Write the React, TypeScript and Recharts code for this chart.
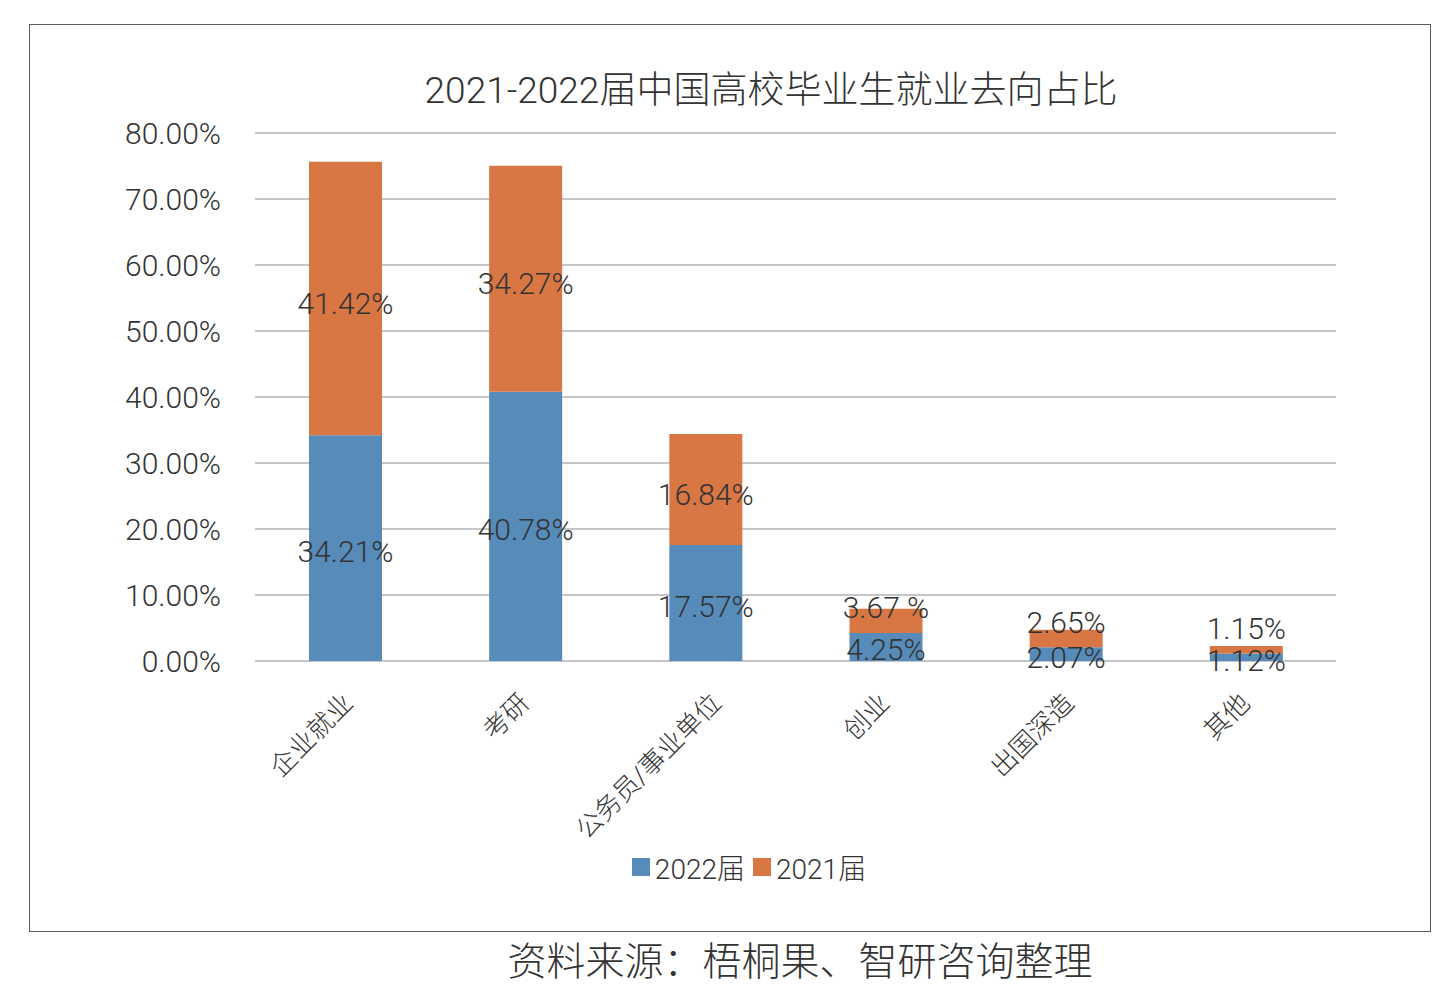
import React from 'react';
import { BarChart, Bar, XAxis, YAxis, CartesianGrid, Legend, LabelList } from 'recharts';

const categories = ['企业就业', '考研', '公务员/事业单位', '创业', '出国深造', '其他'];
const values2022 = [34.21, 40.78, 17.57, 4.25, 2.07, 1.12];
const values2021 = [41.42, 34.27, 16.84, 3.67, 2.65, 1.15];
const labels2022 = ['34.21%', '40.78%', '17.57%', '4.25%', '2.07%', '1.12%'];
const labels2021 = ['41.42%', '34.27%', '16.84%', '3.67 %', '2.65%', '1.15%'];
const yTicks = [0, 10, 20, 30, 40, 50, 60, 70, 80];

const BLUE = '#568bba';
const ORANGE = '#d87744';
const FONT = 'Roboto, "Noto Sans CJK SC", sans-serif';

const data = categories.map((name, i) => ({
  name,
  y2022: values2022[i],
  y2021: values2021[i],
  l2022: labels2022[i],
  l2021: labels2021[i],
}));

// rotated category label, anchored at its end
const CategoryTick = (props: any) => {
  const { x, y, payload } = props;
  const dx = -12 + 2 * String(payload.value).length;
  return (
    <g transform={`translate(${x + dx},${y + 22})`}>
      <text
        transform="rotate(-45)"
        textAnchor="end"
        dominantBaseline="hanging"
        fontSize={26}
        fontWeight={300}
        fill="#333"
        fontFamily={FONT}
      >
        {payload.value}
      </text>
    </g>
  );
};

const BottomLabel = (props: any) => {
  const { x, y, width, height, value } = props;
  return (
    <text
      x={x + width / 2}
      y={y + height / 2 + 3}
      textAnchor="middle"
      dominantBaseline="central"
      fontSize={30}
      fontWeight={300}
      fill="#333"
      fontFamily={FONT}
    >
      {value}
    </text>
  );
};

// 2021 labels: centred, but lifted above the blue part on short bars
const TopLabel = (props: any) => {
  const { x, y, width, height, value } = props;
  const cy = Math.min(y + height / 2 + 5, y + height - 25);
  return (
    <text
      x={x + width / 2}
      y={cy}
      textAnchor="middle"
      dominantBaseline="central"
      fontSize={30}
      fontWeight={300}
      fill="#333"
      fontFamily={FONT}
    >
      {value}
    </text>
  );
};

const LegendContent = () => (
  <div style={{ display: 'flex', justifyContent: 'center', gap: 8, fontFamily: FONT, fontSize: 28, fontWeight: 300, color: '#333' }}>
    {[
      { label: '2022届', color: BLUE },
      { label: '2021届', color: ORANGE },
    ].map((it) => (
      <span key={it.label} style={{ display: 'flex', alignItems: 'center' }}>
        <span style={{ width: 18, height: 18, background: it.color, marginRight: 5, display: 'inline-block' }} />
        {it.label}
      </span>
    ))}
  </div>
);

export default function App() {
  return (
    <div style={{ position: 'relative', width: 1446, height: 993, margin: -8, background: '#fff', fontFamily: FONT }}>
      <div
        style={{
          position: 'absolute',
          left: 29,
          top: 24,
          width: 1400,
          height: 906,
          border: '1px solid #5a5a5a',
        }}
      >
        <div
          style={{
            position: 'absolute',
            left: 0,
            width: 1482,
            top: 35,
            textAlign: 'center',
            fontSize: 37,
            fontWeight: 300,
            color: '#333',
          }}
        >
          2021-2022届中国高校毕业生就业去向占比
        </div>
        <BarChart
          width={1400}
          height={906}
          data={data}
          margin={{ top: 108, right: 94, left: 125, bottom: 0 }}
        >
          <CartesianGrid vertical={false} stroke="#c6c6ca" strokeWidth={2} />
          <XAxis
            dataKey="name"
            axisLine={false}
            tickLine={false}
            interval={0}
            height={230}
            tick={<CategoryTick />}
          />
          <YAxis
            domain={[0, 80]}
            ticks={yTicks}
            axisLine={false}
            tickLine={false}
            tickSize={0}
            tickMargin={34}
            width={100}
            tickFormatter={(v: number) => `${v.toFixed(2)}%`}
            tick={{ fontSize: 30, fill: '#333', fontFamily: FONT, fontWeight: 300 }}
          />
          <Legend
            content={<LegendContent />}
            wrapperStyle={{ top: 822, left: 19, width: 1400 }}
          />
          <Bar dataKey="y2022" stackId="a" fill={BLUE} barSize={73} isAnimationActive={false}>
            <LabelList dataKey="l2022" content={<BottomLabel />} />
          </Bar>
          <Bar dataKey="y2021" stackId="a" fill={ORANGE} barSize={73} isAnimationActive={false}>
            <LabelList dataKey="l2021" content={<TopLabel />} />
          </Bar>
        </BarChart>
      </div>
      <div
        style={{
          position: 'absolute',
          left: 0,
          width: 1600,
          top: 930,
          textAlign: 'center',
          fontSize: 39,
          fontWeight: 300,
          color: '#333',
        }}
      >
        资料来源：梧桐果、智研咨询整理
      </div>
    </div>
  );
}
